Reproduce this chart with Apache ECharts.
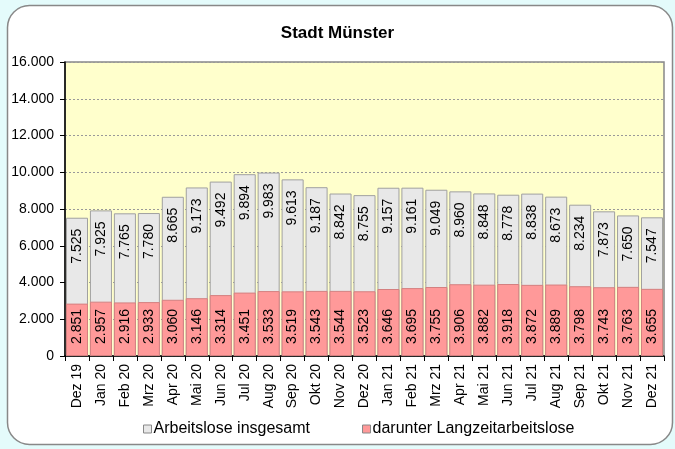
<!DOCTYPE html>
<html><head><meta charset="utf-8">
<script src="https://cdn.jsdelivr.net/npm/echarts@6/dist/echarts.min.js"></script>
<style>html,body{margin:0;padding:0;background:#e4fbfb;}#c{width:675px;height:449px;}</style>
</head><body><div id="c"></div>
<script>
const categories = ['Dez 19','Jan 20','Feb 20','Mrz 20','Apr 20','Mai 20','Jun 20','Jul 20','Aug 20','Sep 20','Okt 20','Nov 20','Dez 20','Jan 21','Feb 21','Mrz 21','Apr 21','Mai 21','Jun 21','Jul 21','Aug 21','Sep 21','Okt 21','Nov 21','Dez 21'];
const totalValues = [7525,7925,7765,7780,8665,9173,9492,9894,9983,9613,9187,8842,8755,9157,9161,9049,8960,8848,8778,8838,8673,8234,7873,7650,7547];
const longTermValues = [2851,2957,2916,2933,3060,3146,3314,3451,3533,3519,3543,3544,3523,3646,3695,3755,3906,3882,3918,3872,3889,3798,3743,3763,3655];
const seriesNames = ['Arbeitslose insgesamt','darunter Langzeitarbeitslose'];
const titleText = 'Stadt Münster';

function de(v){ return String(v).replace(/\B(?=(\d{3})+(?!\d))/g,'.'); }
const FONT = '"Liberation Sans", Arial, sans-serif';

const chart = echarts.init(document.getElementById('c'), null, {renderer:'canvas'});
chart.setOption({
  animation:false,
  backgroundColor:'transparent',
  graphic:[{type:'rect',z:-10,silent:true,shape:{x:7.5,y:5.5,width:665,height:439,r:[22,22,22,22]},style:{fill:'#ffffff',stroke:'#888888',lineWidth:1.5}}],
  title:{text:titleText,left:'center',top:20,textStyle:{fontFamily:FONT,fontSize:17,fontWeight:'bold',color:'#000'}},
  legend:{bottom:7,left:138,itemGap:52,itemWidth:8,itemHeight:8,icon:'rect',
    textStyle:{fontFamily:FONT,fontSize:16,color:'#000',padding:[0,0,0,-3]},
    data:[{name:seriesNames[0],itemStyle:{color:'#e8e8e8',borderColor:'#888',borderWidth:1}},
          {name:seriesNames[1],itemStyle:{color:'#ff9999',borderColor:'#888',borderWidth:1}}]},
  grid:{left:65,right:11,top:62,bottom:93,show:true,backgroundColor:'#ffffcc',borderColor:'#888888',borderWidth:1.5},
  xAxis:{type:'category',data:categories,
    axisLine:{lineStyle:{color:'#000',width:1.5}},
    axisTick:{show:true,length:5,lineStyle:{color:'#000'}},
    axisLabel:{rotate:90,fontFamily:FONT,fontSize:14,color:'#000',margin:8,interval:0}},
  yAxis:{type:'value',min:0,max:16000,interval:2000,
    axisLine:{show:true,lineStyle:{color:'#000',width:1.5}},
    axisTick:{show:true,length:5,lineStyle:{color:'#000'}},
    axisLabel:{fontFamily:FONT,fontSize:14,color:'#000',margin:11,formatter:v=>de(v)},
    splitLine:{show:true,lineStyle:{color:'#999',type:[2,2],width:1}}},
  series:[
    {name:seriesNames[0],type:'bar',data:totalValues,barCategoryGap:'8%',barGap:'-100%',
     itemStyle:{color:'#e8e8e8',borderColor:'#a0a0a0',borderWidth:1},
     label:{show:true,position:'insideTop',rotate:90,align:'right',verticalAlign:'middle',distance:11,
       fontFamily:FONT,fontSize:14,color:'#000',formatter:p=>de(p.value)}},
    {name:seriesNames[1],type:'bar',data:longTermValues,barCategoryGap:'8%',barGap:'-100%',
     itemStyle:{color:'#ff9999',borderColor:'#d48080',borderWidth:1},
     label:{show:true,position:'insideBottom',rotate:90,align:'left',verticalAlign:'middle',distance:12,
       fontFamily:FONT,fontSize:14,color:'#000',formatter:p=>de(p.value)}}
  ]
});
</script></body></html>
